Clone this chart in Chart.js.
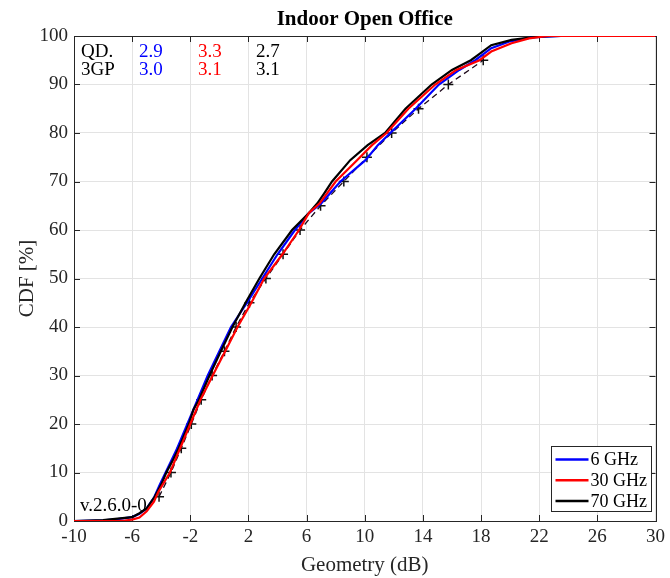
<!DOCTYPE html>
<html><head><meta charset="utf-8">
<script src="https://cdn.jsdelivr.net/npm/chart.js@4/dist/chart.umd.min.js"></script>
<style>html,body{margin:0;padding:0;background:#fff}</style>
</head><body>
<canvas id="c" width="670" height="578"></canvas>
<script>
const xTicks = [-10,-6,-2,2,6,10,14,18,22,26,30];
const yTicks = [0,10,20,30,40,50,60,70,80,90,100];
const seriesNames = ['6 GHz','30 GHz','70 GHz'];
const seriesColors = ['#0000ff','#ff0000','#000000'];

const cdf6X = [-10,-8,-7,-6,-5.5,-5,-4.5,-4.1,-3.7,-3.3,-2.9,-2.2,-1.5,-0.8,0.0,0.8,1.9,2.95,4.0,5.2,6.16,7.0,8.33,10.05,10.9,11.76,13.5,15.1,16.5,17.6,18.7,20,21.5,23.5,30];
const cdf6Y = [0,0.15,0.4,0.8,1.5,2.6,4.8,7.5,10,12.5,15,20,25,30,35,40,45,50,55,60,63.5,65.5,70,74.4,77.5,80,85,90,93,95,97.5,98.9,99.7,100,100];

const cdf30X = [-10,-7,-6.5,-6,-5.5,-5,-4.5,-4.2,-3.4,-2.7,-2.0,-1.3,-0.46,0.4,1.25,2.2,3.08,4.34,5.48,6.16,6.9,8.0,9.47,10.5,11.5,13.0,14.85,16.3,17.9,18.7,20.1,21.3,22.6,30];
const cdf30Y = [0,0,0.1,0.3,0.7,2.0,4,6,10,15,20,25,30,35,40,45,50,55,60,63.5,65.5,70,74.4,77.5,80,85,90,93,95,96.8,98.5,99.5,100,100];

const cdf70X = [-10,-8,-7,-6,-5.5,-5,-4.45,-4,-3.65,-3.2,-2.8,-2.1,-1.78,-1.4,-0.68,0.1,0.9,1.8,2.75,3.77,5.0,6.16,6.74,7.2,7.75,9.0,10.2,11.4,12.8,14.6,16.0,17.3,17.8,18.7,20.1,22,23.5,30];
const cdf70Y = [0,0.2,0.5,0.8,1.6,2.6,5,7.5,10,12.5,15,20,23,25,30,35,40,45,50,55,60,63.5,65.5,67.5,70,74.4,77.5,80,85,90,93,95,96.1,98.1,99.2,99.9,100,100];

const gppX = [-4.15,-3.33,-2.62,-1.93,-1.25,-0.5,0.35,1.15,2.07,3.2,4.38,5.55,6.96,8.56,10.15,11.85,13.7,15.75,18.15];
const gppY = [5,10,15,20,25,30,35,40,45,50,55,60,65,70,75,80,85,90,95];

const annRows = ['QD.','3GP'];
const annVals = [['2.9','3.3','2.7'],['3.0','3.1','3.1']];
const versionText = 'v.2.6.0-0';
const titleText = 'Indoor Open Office';

const pts = (xs, ys) => xs.map((v,i)=>({x:v,y:ys[i]}));
const SERIF = '"Liberation Serif","DejaVu Serif",serif';

const decor = {
  id:'decor',
  beforeDatasetsDraw(chart){
    const {ctx, chartArea:a, scales:{x,y}} = chart;
    ctx.save();
    ctx.strokeStyle='#262626'; ctx.lineWidth=1;
    ctx.beginPath();
    xTicks.forEach(v=>{const p=Math.round(x.getPixelForValue(v))+0.5;
      ctx.moveTo(p,a.bottom); ctx.lineTo(p,a.bottom-6);
      ctx.moveTo(p,a.top); ctx.lineTo(p,a.top+6);});
    yTicks.forEach(v=>{const p=Math.round(y.getPixelForValue(v))+0.5;
      ctx.moveTo(a.left,p); ctx.lineTo(a.left+6,p);
      ctx.moveTo(a.right,p); ctx.lineTo(a.right-6,p);});
    ctx.stroke();
    ctx.strokeRect(Math.round(a.left)+0.5, Math.round(a.top)+0.5, Math.round(a.right-a.left), Math.round(a.bottom-a.top));
    ctx.restore();
  },
  afterDraw(chart){
    const {ctx, chartArea:a} = chart;
    ctx.save();
    // title
    ctx.fillStyle='#000';
    ctx.font='bold 21px '+SERIF;
    ctx.textAlign='center'; ctx.textBaseline='middle';
    ctx.fillText(titleText,(a.left+a.right)/2, a.top-16);
    // annotations
    ctx.font='19px '+SERIF; ctx.textAlign='left';
    const cols=[65,124,182];
    annRows.forEach((r,i)=>{
      const yy=a.top+16+i*18.5;
      ctx.fillStyle='#000'; ctx.fillText(r,a.left+7,yy);
      annVals[i].forEach((v,j)=>{ctx.fillStyle=seriesColors[j]; ctx.fillText(v,a.left+cols[j],yy);});
    });
    ctx.fillStyle='#000';
    ctx.fillText(versionText,a.left+6,a.bottom-15);
    // legend
    ctx.font='18px '+SERIF;
    const lx=551.5, ly=446.5, lw=100, lh=65;
    ctx.fillStyle='#fff'; ctx.fillRect(lx,ly,lw,lh);
    ctx.strokeStyle='#262626'; ctx.lineWidth=1; ctx.strokeRect(lx,ly,lw,lh);
    seriesNames.forEach((n,i)=>{
      const yy=ly+13+i*20.7;
      ctx.strokeStyle=seriesColors[i]; ctx.lineWidth=2.5;
      ctx.beginPath(); ctx.moveTo(lx+4,yy); ctx.lineTo(lx+37,yy); ctx.stroke();
      ctx.fillStyle='#000'; ctx.fillText(n,lx+39,yy+1);
    });
    ctx.restore();
  }
};

new Chart(document.getElementById('c'),{
  type:'line',
  data:{datasets:[
    {label:'3GPP',data:pts(gppX,gppY),borderColor:'#1e0a1c',borderWidth:1.3,borderDash:[6,4],
     pointStyle:'cross',pointRadius:5,pointBorderColor:'#111',pointBorderWidth:1.5,pointBackgroundColor:'#000',order:4},
    {label:seriesNames[0],data:pts(cdf6X,cdf6Y),borderColor:seriesColors[0],borderWidth:2.2,pointRadius:0,order:3},
    {label:seriesNames[2],data:pts(cdf70X,cdf70Y),borderColor:seriesColors[2],borderWidth:2.2,pointRadius:0,order:2},
    {label:seriesNames[1],data:pts(cdf30X,cdf30Y),borderColor:seriesColors[1],borderWidth:2.2,pointRadius:0,order:1}
  ]},
  options:{
    responsive:false, animation:false,
    layout:{padding:{top:36,right:12,left:0,bottom:0}},
    elements:{line:{tension:0}},
    plugins:{legend:{display:false},tooltip:{enabled:false},title:{display:false}},
    scales:{
      x:{type:'linear',min:-10,max:30,
        afterBuildTicks:s=>{s.ticks=xTicks.map(v=>({value:v}));},
        afterFit:s=>{s.height=57;},
        grid:{color:'#e3e3e3',drawTicks:false},border:{display:false},
        ticks:{padding:5,color:'#262626',font:{family:SERIF,size:19},maxRotation:0,autoSkip:false},
        title:{display:true,text:'Geometry (dB)',color:'#262626',font:{family:SERIF,size:21},padding:{top:0,bottom:0}}},
      y:{type:'linear',min:0,max:100,
        afterBuildTicks:s=>{s.ticks=yTicks.map(v=>({value:v}));},
        afterFit:s=>{s.width=74;},
        grid:{color:'#e3e3e3',drawTicks:false},border:{display:false},
        ticks:{padding:6,color:'#262626',font:{family:SERIF,size:19},autoSkip:false},
        title:{display:true,text:'CDF [%]',color:'#262626',font:{family:SERIF,size:21},padding:{top:15,bottom:0}}}
    }
  },
  plugins:[decor]
});
</script>
</body></html>
